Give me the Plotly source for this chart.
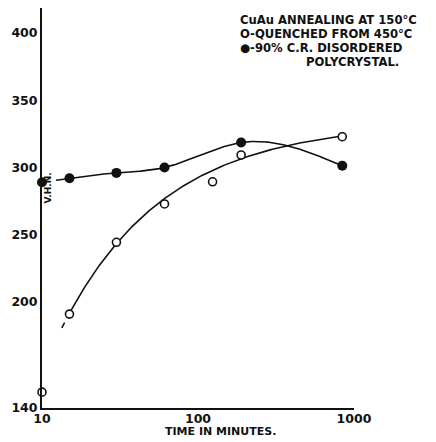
import numpy as np
import plotly.graph_objects as go

# ---- data ----
TIME_SOLID = [10, 15, 30, 61, 189, 841]
VHN_SOLID = [289, 292, 296, 300, 318.6, 301.3]
TIME_OPEN = [10, 15, 30, 61, 124, 189, 841]
VHN_OPEN = [133, 191, 244.4, 272.9, 289.4, 309.3, 322.9]
OPEN_ON_CURVE = [False, True, True, True, False, True, True]

SOLID_CURVE_FROM = 12.3   # minutes where the drawn solid curve begins
OPEN_DASH_FROM = 13.4     # start of the dashed extrapolation of the open curve

X_TICKS = [10, 100, 1000]
X_TICK_TEXT = ["10", "100", "1000"]
Y_BOTTOM = 121.2          # value at the axis origin (labelled 140 on the original)
Y_TOP = 418.6
Y_TICKS = [Y_BOTTOM, 200, 250, 300, 350, 400]
Y_TICK_TEXT = ["140", "200", "250", "300", "350", "400"]

LEGEND_LINES = ["CuAu ANNEALING AT 150°C",
                "O-QUENCHED FROM 450°C",
                "●-90% C.R. DISORDERED",
                "POLYCRYSTAL."]

INK = "#111111"
FONT = "DejaVu Sans"


# ---- solid series: natural cubic spline through the points (log time) ----
def spline_curve(times, values, t0, t1, n=200):
    x = np.log10(np.array(times, float))
    y = np.array(values, float)
    k = len(x)
    h = np.diff(x)
    A = np.zeros((k, k))
    r = np.zeros(k)
    A[0, 0] = A[-1, -1] = 1.0
    for i in range(1, k - 1):
        A[i, i - 1] = h[i - 1]
        A[i, i] = 2 * (h[i - 1] + h[i])
        A[i, i + 1] = h[i]
        r[i] = 3 * ((y[i + 1] - y[i]) / h[i] - (y[i] - y[i - 1]) / h[i - 1])
    c = np.linalg.solve(A, r)
    b = (y[1:] - y[:-1]) / h - h * (2 * c[:-1] + c[1:]) / 3
    d = (c[1:] - c[:-1]) / (3 * h)
    xs = np.linspace(np.log10(t0), np.log10(t1), n)
    idx = np.clip(np.searchsorted(x, xs) - 1, 0, k - 2)
    dx = xs - x[idx]
    ys = y[idx] + b[idx] * dx + c[idx] * dx ** 2 + d[idx] * dx ** 3
    return 10 ** xs, ys


# ---- open series: saturating trend v = a - b * t^-c fitted to the points ----
def saturating_fit(times, values, mask):
    m = np.array(mask, bool)
    t = np.array(times, float)[m]
    v = np.array(values, float)[m]
    best = None
    for a in np.linspace(v.max() + 0.5, v.max() + 80, 400):
        slope, icpt = np.polyfit(np.log(t), np.log(a - v), 1)
        pred = a - np.exp(icpt) * t ** slope
        err = np.sum((pred - v) ** 2)
        if best is None or err < best[0]:
            best = (err, a, np.exp(icpt), slope)
    _, a, b, s = best
    return lambda tt: a - b * np.asarray(tt, float) ** s


sx, sy = spline_curve(TIME_SOLID, VHN_SOLID, SOLID_CURVE_FROM, TIME_SOLID[-1])
trend = saturating_fit(TIME_OPEN, VHN_OPEN, OPEN_ON_CURVE)
ox = np.logspace(np.log10(TIME_OPEN[1]), np.log10(TIME_OPEN[-1]), 200)
oy = trend(ox)
dx_ = np.logspace(np.log10(OPEN_DASH_FROM), np.log10(TIME_OPEN[1]), 30)
dy_ = trend(dx_)

fig = go.Figure()
line = dict(color=INK, width=1.6)
fig.add_trace(go.Scatter(x=sx, y=sy, mode="lines", line=line, hoverinfo="skip"))
fig.add_trace(go.Scatter(x=ox, y=oy, mode="lines", line=line, hoverinfo="skip"))
fig.add_trace(go.Scatter(x=dx_, y=dy_, mode="lines",
                         line=dict(color=INK, width=1.6, dash="6px,30px"),
                         hoverinfo="skip"))
fig.add_trace(go.Scatter(x=TIME_SOLID, y=VHN_SOLID, mode="markers",
                         marker=dict(size=10, color=INK, line=dict(width=0)),
                         cliponaxis=False))
fig.add_trace(go.Scatter(x=TIME_OPEN, y=VHN_OPEN, mode="markers",
                         marker=dict(size=8, color="white",
                                     line=dict(width=1.6, color=INK)),
                         cliponaxis=False))

# the page body has an 8px margin, so the figure is placed 8px in
OFF = 8
W, H = 436 - OFF, 442 - OFF
# plot area in figure pixels (reference pixel - OFF)
L, R, T, B = 42 - OFF, 354 - OFF, 0, 408 - OFF


def px(x):
    return (x - OFF - L) / (R - L)


def py(y):
    return (B - (y - OFF)) / (B - T)


ann = []
ann.append(dict(x=px(47.5), y=py(188), xref="paper", yref="paper",
                xanchor="center", yanchor="middle",
                text="V.H.N.", textangle=-90, showarrow=False,
                font=dict(family=FONT, size=9, color=INK, weight="bold")))
ann.append(dict(x=px(220), y=py(431), xref="paper", yref="paper",
                xanchor="center", yanchor="middle",
                text="TIME IN MINUTES.", showarrow=False,
                font=dict(family=FONT, size=11, color=INK, weight="bold")))
ys = [20, 34, 48, 62]
xs = [238, 238, 238, 304]
for t, xx, yy in zip(LEGEND_LINES, xs, ys):
    ann.append(dict(x=px(xx), y=py(yy), xref="paper", yref="paper",
                    xanchor="left", yanchor="middle", text=t, showarrow=False,
                    font=dict(family=FONT, size=11.6, color=INK, weight="bold")))

fig.update_layout(
    width=W, height=H,
    margin=dict(l=L, r=W - R, t=T, b=H - B, pad=0, autoexpand=False),
    paper_bgcolor="white", plot_bgcolor="white",
    showlegend=False,
    annotations=ann,
    xaxis=dict(type="log", range=[1, 3], showline=True, linecolor=INK,
               linewidth=1.5, showgrid=False, zeroline=False, ticks="",
               automargin=False, ticklabelstandoff=-2,
               tickvals=X_TICKS, ticktext=X_TICK_TEXT,
               tickfont=dict(family=FONT, size=12.5, color=INK, weight="bold")),
    yaxis=dict(range=[Y_BOTTOM, Y_TOP], showline=True, linecolor=INK,
               linewidth=2, showgrid=False, zeroline=False, ticks="",
               automargin=False,
               tickvals=Y_TICKS, ticktext=Y_TICK_TEXT,
               tickfont=dict(family=FONT, size=12.5, color=INK, weight="bold")),
)

fig.write_html("out.html")
